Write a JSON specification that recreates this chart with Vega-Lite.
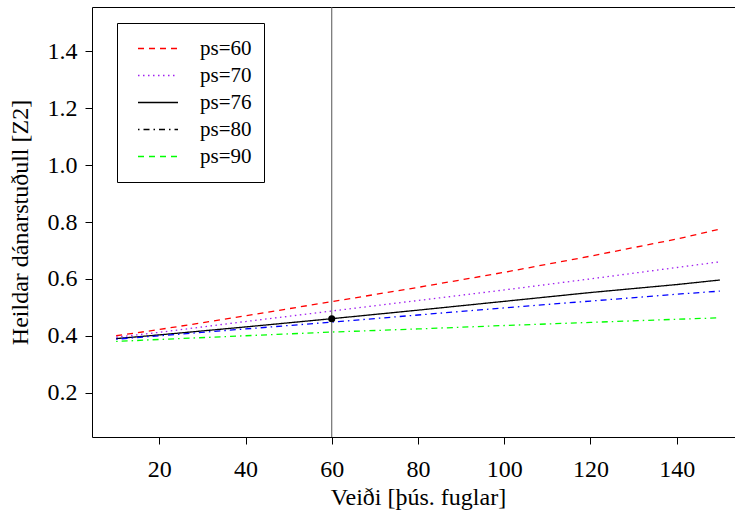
{
  "$schema": "https://vega.github.io/schema/vega-lite/v6.json",
  "autosize": "none",
  "padding": {"left": 92, "top": 7, "right": 0, "bottom": 79},
  "width": 652,
  "height": 430,
  "config": {
    "view": {"stroke": "black", "strokeWidth": 1},
    "font": "Liberation Serif",
    "axis": {
      "grid": false,
      "domain": false,
      "tickColor": "black",
      "tickSize": 7,
      "tickWidth": 1,
      "labelFont": "Liberation Serif",
      "labelFontSize": 24,
      "labelColor": "black",
      "titleFont": "Liberation Serif",
      "titleFontSize": 24,
      "titleFontWeight": "normal",
      "titleColor": "black"
    },
    "legend": {"labelFont": "Liberation Serif"}
  },
  "datasets": {
    "lines": [
      {"ps": "ps=60", "x": 10, "z": 0.400}, {"ps": "ps=60", "x": 20, "z": 0.422}, {"ps": "ps=60", "x": 40, "z": 0.470}, {"ps": "ps=60", "x": 60, "z": 0.520}, {"ps": "ps=60", "x": 80, "z": 0.570}, {"ps": "ps=60", "x": 100, "z": 0.623}, {"ps": "ps=60", "x": 120, "z": 0.680}, {"ps": "ps=60", "x": 140, "z": 0.740}, {"ps": "ps=60", "x": 150, "z": 0.775},
      {"ps": "ps=70", "x": 10, "z": 0.395}, {"ps": "ps=70", "x": 20, "z": 0.412}, {"ps": "ps=70", "x": 40, "z": 0.450}, {"ps": "ps=70", "x": 60, "z": 0.487}, {"ps": "ps=70", "x": 80, "z": 0.524}, {"ps": "ps=70", "x": 100, "z": 0.561}, {"ps": "ps=70", "x": 120, "z": 0.600}, {"ps": "ps=70", "x": 140, "z": 0.640}, {"ps": "ps=70", "x": 150, "z": 0.660},
      {"ps": "ps=76", "x": 10, "z": 0.390}, {"ps": "ps=76", "x": 20, "z": 0.403}, {"ps": "ps=76", "x": 40, "z": 0.431}, {"ps": "ps=76", "x": 60, "z": 0.460}, {"ps": "ps=76", "x": 80, "z": 0.490}, {"ps": "ps=76", "x": 100, "z": 0.521}, {"ps": "ps=76", "x": 120, "z": 0.552}, {"ps": "ps=76", "x": 140, "z": 0.580}, {"ps": "ps=76", "x": 150, "z": 0.596},
      {"ps": "ps=80", "x": 10, "z": 0.388}, {"ps": "ps=80", "x": 20, "z": 0.400}, {"ps": "ps=80", "x": 40, "z": 0.424}, {"ps": "ps=80", "x": 60, "z": 0.448}, {"ps": "ps=80", "x": 80, "z": 0.473}, {"ps": "ps=80", "x": 100, "z": 0.498}, {"ps": "ps=80", "x": 120, "z": 0.522}, {"ps": "ps=80", "x": 140, "z": 0.546}, {"ps": "ps=80", "x": 150, "z": 0.557},
      {"ps": "ps=90", "x": 10, "z": 0.380}, {"ps": "ps=90", "x": 20, "z": 0.387}, {"ps": "ps=90", "x": 40, "z": 0.400}, {"ps": "ps=90", "x": 60, "z": 0.413}, {"ps": "ps=90", "x": 80, "z": 0.424}, {"ps": "ps=90", "x": 100, "z": 0.436}, {"ps": "ps=90", "x": 120, "z": 0.447}, {"ps": "ps=90", "x": 140, "z": 0.458}, {"ps": "ps=90", "x": 150, "z": 0.463}
    ],
    "ref": [{"x": 60, "z": 0.46}]
  },
  "encoding": {
    "x": {
      "field": "x", "type": "quantitative",
      "scale": {"domain": [4.4, 155.6], "nice": false, "zero": false},
      "axis": {"values": [20, 40, 60, 80, 100, 120, 140], "labelFont": "Liberation Serif", "labelFontSize": 24, "labelPadding": 13, "titlePadding": 4, "title": "Veiði [þús. fuglar]"}
    }
  },
  "layer": [
    {
      "data": {"name": "ref"},
      "mark": {"type": "rule", "color": "#555555", "strokeWidth": 1},
      "encoding": {}
    },
    {
      "data": {"name": "lines"},
      "mark": {"type": "line", "strokeWidth": 1.3},
      "encoding": {
        "y": {
          "field": "z", "type": "quantitative",
          "scale": {"domain": [0.044, 1.556], "nice": false, "zero": false},
          "axis": {"values": [0.2, 0.4, 0.6, 0.8, 1.0, 1.2, 1.4], "format": ".1f", "labelFont": "Liberation Serif", "labelFontSize": 24, "labelPadding": 8, "titlePadding": 15, "title": "Heildar dánarstuðull [Z2]"}
        },
        "color": {
          "field": "ps", "type": "nominal",
          "scale": {"domain": ["ps=60", "ps=70", "ps=76", "ps=80", "ps=90"], "range": ["#FF0000", "#A020F0", "#000000", "#0000FF", "#00FF00"]},
          "legend": null
        },
        "strokeDash": {
          "field": "ps", "type": "nominal",
          "scale": {"domain": ["ps=60", "ps=70", "ps=76", "ps=80", "ps=90"], "range": [[6, 5], [1.5, 3.5], [1, 0], [1.5, 4, 6, 4], [1.5, 4, 6, 4]]},
          "legend": null
        }
      }
    },
    {
      "data": {"name": "lines"},
      "mark": {"type": "line", "opacity": 0, "strokeWidth": 1.3},
      "encoding": {
        "y": {"field": "z", "type": "quantitative"},
        "color": {
          "field": "ps", "type": "nominal",
          "scale": {"domain": ["ps=60", "ps=70", "ps=76", "ps=80", "ps=90"], "range": ["#FF0000", "#A020F0", "#000000", "#000000", "#00FF00"]},
          "legend": {
            "title": null,
            "orient": "none",
            "legendX": 25,
            "legendY": 16,
            "padding": 12,
            "strokeColor": "black",
            "fillColor": "white",
            "symbolType": "stroke",
            "symbolSize": 1600,
            "symbolStrokeWidth": 1.3,
            "symbolOpacity": 1,
            "symbolOffset": 8,
            "clipHeight": 27,
            "rowPadding": 0,
            "labelOffset": 21,
            "labelFont": "Liberation Serif",
            "labelFontSize": 21,
            "labelColor": "black"
          }
        },
        "strokeDash": {
          "field": "ps", "type": "nominal",
          "scale": {"domain": ["ps=60", "ps=70", "ps=76", "ps=80", "ps=90"], "range": [[6, 5], [1.5, 3.5], [1, 0], [1.5, 4, 6, 4], [6, 5]]},
          "legend": {"title": null, "orient": "none", "legendX": 25, "legendY": 16}
        }
      }
    },
    {
      "data": {"name": "ref"},
      "mark": {"type": "point", "filled": true, "color": "black", "size": 50, "opacity": 1},
      "encoding": {"y": {"field": "z", "type": "quantitative"}}
    }
  ],
  "resolve": {"scale": {"color": "independent", "strokeDash": "independent"}}
}
